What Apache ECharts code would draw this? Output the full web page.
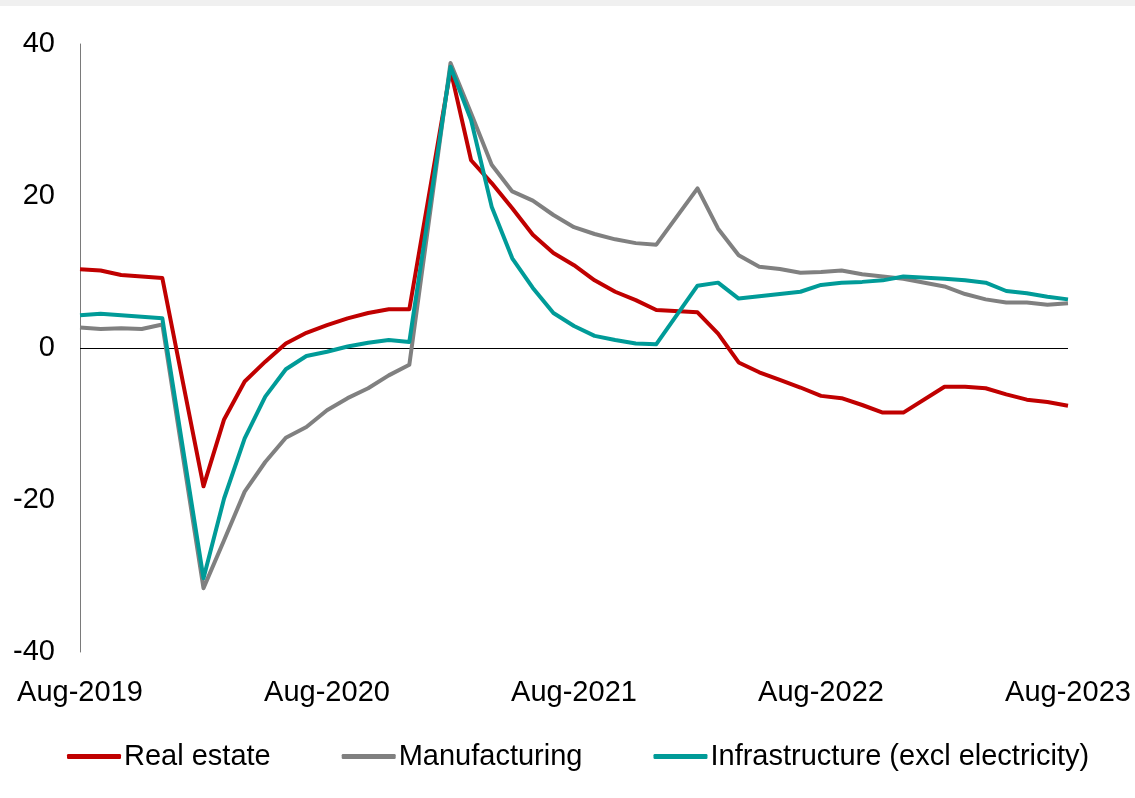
<!DOCTYPE html>
<html>
<head>
<meta charset="utf-8">
<title>Investment growth by sector</title>
<script src="https://cdn.jsdelivr.net/npm/echarts@6/dist/echarts.min.js"></script>
<style>
  html, body {
    margin: 0;
    padding: 0;
    background: #fff;
  }
  .chart {
    width: 1135px;
    height: 798px;
  }
</style>
</head>
<body>
<div id="chart" class="chart"></div>
<script>
// 月份（1月无数据，与2月合并）
const months = [
  'Aug-2019', 'Sep-2019', 'Oct-2019', 'Nov-2019', 'Dec-2019',
  'Jan-2020', 'Feb-2020', 'Mar-2020', 'Apr-2020', 'May-2020', 'Jun-2020', 'Jul-2020',
  'Aug-2020', 'Sep-2020', 'Oct-2020', 'Nov-2020', 'Dec-2020',
  'Jan-2021', 'Feb-2021', 'Mar-2021', 'Apr-2021', 'May-2021', 'Jun-2021', 'Jul-2021',
  'Aug-2021', 'Sep-2021', 'Oct-2021', 'Nov-2021', 'Dec-2021',
  'Jan-2022', 'Feb-2022', 'Mar-2022', 'Apr-2022', 'May-2022', 'Jun-2022', 'Jul-2022',
  'Aug-2022', 'Sep-2022', 'Oct-2022', 'Nov-2022', 'Dec-2022',
  'Jan-2023', 'Feb-2023', 'Mar-2023', 'Apr-2023', 'May-2023', 'Jun-2023', 'Jul-2023',
  'Aug-2023'
]

const seriesNames = ['Real estate', 'Manufacturing', 'Infrastructure (excl electricity)']
const seriesColors = ['#C00000', '#808080', '#009B98']

const realEstate = [
  10.35, 10.2, 9.6, 9.4, 9.2,
  null, -18.2, -9.4, -4.4, -1.8, 0.6, 2.0,
  3.0, 3.9, 4.6, 5.1, 5.1,
  null, 36.6, 24.7, 21.7, 18.4, 14.9, 12.5,
  10.9, 8.9, 7.4, 6.3, 5.0,
  null, 4.7, 1.9, -1.9, -3.2, -4.2, -5.2,
  -6.3, -6.6, -7.5, -8.5, -8.5,
  null, -5.1, -5.1, -5.3, -6.1, -6.8, -7.1,
  -7.6
]

const manufacturing = [
  2.7, 2.5, 2.6, 2.5, 3.1,
  null, -31.6, -25.3, -18.9, -15.0, -11.8, -10.4,
  -8.2, -6.6, -5.3, -3.6, -2.2,
  null, 37.5, 30.9, 24.1, 20.6, 19.4, 17.5,
  15.9, 15.0, 14.3, 13.8, 13.6,
  null, 21.0, 15.7, 12.2, 10.7, 10.4, 9.9,
  10.0, 10.2, 9.7, 9.4, 9.1,
  null, 8.1, 7.1, 6.4, 6.0, 6.0, 5.7,
  5.9
]

const infrastructure = [
  4.3, 4.5, 4.3, 4.1, 3.9,
  null, -30.3, -19.8, -11.9, -6.4, -2.8, -1.05,
  -0.5, 0.2, 0.7, 1.05, 0.8,
  null, 37.0, 30.0, 18.6, 11.8, 7.9, 4.6,
  2.9, 1.6, 1.05, 0.6, 0.5,
  null, 8.2, 8.6, 6.5, 6.8, 7.1, 7.4,
  8.3, 8.6, 8.7, 8.9, 9.4,
  null, 9.1, 8.9, 8.6, 7.5, 7.2, 6.75,
  6.4
]

const FONT = '"Liberation Sans", Arial, sans-serif'

const chart = echarts.init(document.getElementById('chart'), null, { renderer: 'canvas' })

const makeLine = (name, data, color) => ({
  name,
  type: 'line',
  data,
  connectNulls: true,
  symbol: 'none',
  smooth: false,
  lineStyle: { color, width: 4, join: 'round' },
  itemStyle: { color }
})

const series = [
  makeLine(seriesNames[0], realEstate, seriesColors[0]),
  makeLine(seriesNames[1], manufacturing, seriesColors[1]),
  makeLine(seriesNames[2], infrastructure, seriesColors[2])
]

// 零线
series[0].markLine = {
  silent: true,
  symbol: 'none',
  label: { show: false },
  lineStyle: { color: '#000', width: 1, type: 'solid' },
  z: 1,
  data: [{ yAxis: 0 }]
}

const option = {
  animation: false,
  backgroundColor: '#fff',
  graphic: [
    {
      type: 'rect',
      left: 0,
      top: 0,
      shape: { width: 1135, height: 6 },
      style: { fill: '#f0f0f0' },
      silent: true
    }
  ],
  grid: {
    left: 80,
    right: 67,
    top: 44,
    bottom: 146
  },
  legend: {
    left: 62,
    top: 737,
    icon: 'roundRect',
    itemWidth: 54,
    itemHeight: 5,
    itemGap: 71,
    textStyle: { fontFamily: FONT, fontSize: 29, color: '#000', padding: [0, 0, 0, -2] },
    data: seriesNames
  },
  xAxis: {
    type: 'category',
    data: months,
    boundaryGap: false,
    axisLine: { show: false, onZero: false },
    axisTick: { show: false },
    splitLine: { show: false },
    axisLabel: {
      interval: 11,
      margin: 26,
      color: '#000',
      fontFamily: FONT,
      fontSize: 29
    }
  },
  yAxis: {
    type: 'value',
    min: -40,
    max: 40,
    interval: 20,
    axisLine: { show: true, lineStyle: { color: '#7a7a7a', width: 1 } },
    axisTick: { show: false },
    splitLine: { show: false },
    axisLabel: {
      margin: 25,
      color: '#000',
      fontFamily: FONT,
      fontSize: 29
    }
  },
  series
}

chart.setOption(option)
</script>
</body>
</html>
